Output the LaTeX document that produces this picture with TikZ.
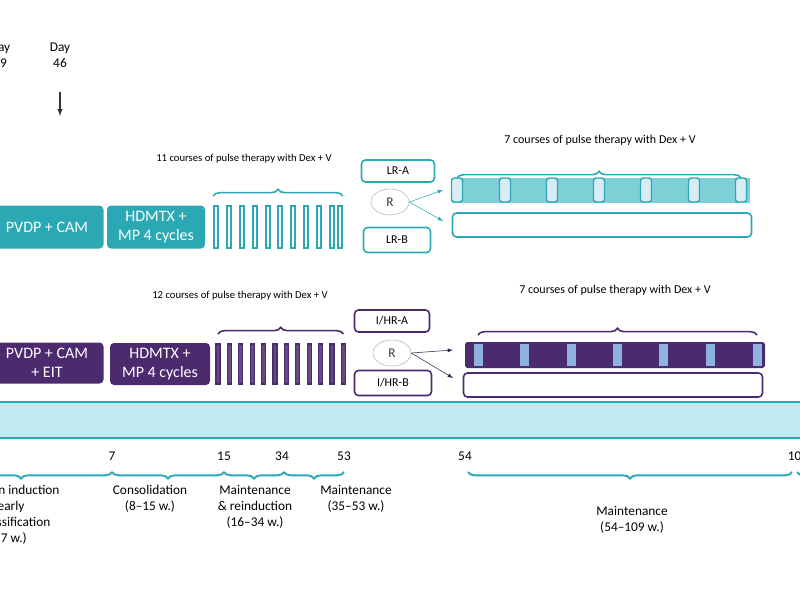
\documentclass[tikz,border=0pt]{standalone}
\usepackage{fontspec}
\setmainfont{Carlito}
\usetikzlibrary{positioning,decorations.pathreplacing,shapes.geometric}
\definecolor{teal1}{HTML}{2AA9B5}
\definecolor{tealbar}{HTML}{7FD0D6}
\definecolor{tealband}{HTML}{C2E9EF}
\definecolor{purp}{HTML}{4B2A6E}
\definecolor{pill}{HTML}{D8EDF3}
\definecolor{pillp}{HTML}{8FB3E0}
\definecolor{txt}{HTML}{3A3A3A}
\begin{document}
\begin{tikzpicture}[x=0.75pt, y=-0.75pt, font=\color{txt},
  phase/.style={rectangle, rounded corners=3pt, text=white, align=center, font=\large, inner sep=2pt},
  arm/.style={rectangle, rounded corners=3pt, draw, line width=1.2pt, fill=white, font=\small, inner sep=2pt},
  rnode/.style={ellipse, draw=gray!60, fill=white, minimum width=38*0.75pt, minimum height=26*0.75pt, inner sep=0pt},
  brc/.style={decorate, decoration={brace, amplitude=5pt}, line width=1.2pt},
  brd/.style={decorate, decoration={brace, amplitude=5pt, mirror}, line width=1.4pt, teal1},
  lbl/.style={align=center, font=\normalsize, inner sep=1pt}]
\useasboundingbox (0,0) rectangle (800,600);
\clip (0,0) rectangle (800,600);

% day markers
\node[lbl] (dayA) at (0,55) {Day\\29};
\node[lbl] (dayB) at (60,55) {Day\\46};
\coordinate (arrtop) at (60,92);
\coordinate (arrbot) at (60,116);
\draw[-latex, thick, black!80] (arrtop) -- (arrbot);

% low risk row
\node[phase, fill=teal1, minimum width=113*0.75pt, minimum height=43*0.75pt] (pvdp) at (47,227) {PVDP + CAM};
\node[phase, fill=teal1, minimum width=98*0.75pt, minimum height=43*0.75pt] (hdmtx) at (156,227) {HDMTX +\\MP 4 cycles};
\foreach \i/\x in {1/216,2/229,3/242,4/255,5/268,6/280,7/293,8/306,9/319,10/332,11/340}
  \node[draw=teal1, line width=1.1pt, fill=white, minimum width=4*0.75pt, minimum height=42*0.75pt, inner sep=0pt] (ls\i) at (\x,227) {};
\draw[brc, teal1] (ls1.north west |- 0,196) -- (ls11.north east |- 0,196);
\node[font=\footnotesize] (lcap) at (244,159) {11 courses of pulse therapy with Dex + V};

\node[arm, draw=teal1, minimum width=73*0.75pt, minimum height=22*0.75pt] (lra) at (398,171) {LR-A};
\node[rnode] (lr) at (390,202) {R};
\node[arm, draw=teal1, minimum width=67*0.75pt, minimum height=25*0.75pt] (lrb) at (397,240) {LR-B};
\node[rectangle, fill=tealbar, minimum width=298*0.75pt, minimum height=25*0.75pt, inner sep=0pt] (lbar) at (601,190) {};
\foreach \i/\x in {1/457,2/505,3/552,4/599,5/646,6/694,7/741}
  \node[rectangle, rounded corners=2pt, draw=teal1, line width=1.1pt, fill=pill, minimum width=11*0.75pt, minimum height=24*0.75pt, inner sep=0pt] (lp\i) at (\x,190) {};
\node[arm, draw=teal1, minimum width=299*0.75pt, minimum height=24*0.75pt] (lempty) at (602,225) {};
\draw[brc, teal1] (lp1.north |- 0,178) -- (lp7.north |- 0,178);
\node[font=\small] (lcap2) at (600,140) {7 courses of pulse therapy with Dex + V};
\draw[-latex, teal1] (lr.east) -- (443,190);
\draw[-latex, teal1] (lr.east) -- (443,221);

% intermediate / high risk row
\node[phase, fill=purp, minimum width=113*0.75pt, minimum height=41*0.75pt] (pvdpe) at (47,363) {PVDP + CAM\\+ EIT};
\node[phase, fill=purp, minimum width=100*0.75pt, minimum height=42*0.75pt] (hdmtxe) at (160,364) {HDMTX +\\MP 4 cycles};
\foreach \i in {1,...,12}
  \node[draw=purp, line width=1pt, fill=purp!85, minimum width=4*0.75pt, minimum height=40*0.75pt, inner sep=0pt] (hs\i) at ({218+(\i-1)*11.4},364) {};
\draw[brc, purp] (hs1.north |- 0,334) -- (hs12.north |- 0,334);
\node[font=\footnotesize] (hcap) at (240,296) {12 courses of pulse therapy with Dex + V};

\node[arm, draw=purp, minimum width=75*0.75pt, minimum height=22*0.75pt] (hra) at (392,321) {I/HR-A};
\node[rnode] (hr) at (392,353) {R};
\node[arm, draw=purp, minimum width=77*0.75pt, minimum height=25*0.75pt] (hrb) at (393,383) {I/HR-B};
\node[rectangle, rounded corners=2pt, fill=purp, minimum width=300*0.75pt, minimum height=26*0.75pt, inner sep=0pt] (hbar) at (615,355) {};
\foreach \i/\x in {1/478,2/524,3/571,4/617,5/663,6/710,7/757}
  \node[rectangle, fill=pillp, minimum width=9*0.75pt, minimum height=22*0.75pt, inner sep=0pt] (hp\i) at (\x,355) {};
\node[arm, draw=purp, minimum width=299*0.75pt, minimum height=24*0.75pt] (hempty) at (613,385) {};
\draw[brc, purp] (hp1.north |- 0,335) -- (hp7.north |- 0,335);
\node[font=\small] (hcap2) at (615,290) {7 courses of pulse therapy with Dex + V};
\draw[-latex, purp!70!black] (hr.east) -- (453,350);
\draw[-latex, purp!70!black] (hr.east) -- (453,378);

% time band
\node[rectangle, fill=tealband, draw=teal1, line width=1.5pt, minimum width=820*0.75pt, minimum height=36*0.75pt, inner sep=0pt] (band) at (400,420) {};

% weeks
\node[lbl] (w7) at (112,456) {7};
\node[lbl] (w15) at (224,456) {15};
\node[lbl] (w34) at (282,456) {34};
\node[lbl] (w53) at (344,456) {53};
\node[lbl] (w54) at (465,456) {54};
\node[lbl] (w109) at (798,456) {109};
\draw[brd] (-70,472) -- (112,472);
\draw[brd] (112,472) -- (224,472);
\draw[brd] (224,472) -- (284,472);
\draw[brd] (284,472) -- (344,472);
\draw[brd] (468,472) -- (792,472);
\draw[brd] (797,472) -- (900,472);

\node[lbl, anchor=north] (ph1) at (5,484) {Remission induction\\\& early\\risk classification\\(1--7 w.)};
\node[lbl, anchor=north] (ph2) at (150,484) {Consolidation\\(8--15 w.)};
\node[lbl, anchor=north] (ph3) at (255,484) {Maintenance\\\& reinduction\\(16--34 w.)};
\node[lbl, anchor=north] (ph4) at (356,484) {Maintenance\\(35--53 w.)};
\node[lbl, anchor=north] (ph5) at (632,505) {Maintenance\\(54--109 w.)};
\end{tikzpicture}
\end{document}
